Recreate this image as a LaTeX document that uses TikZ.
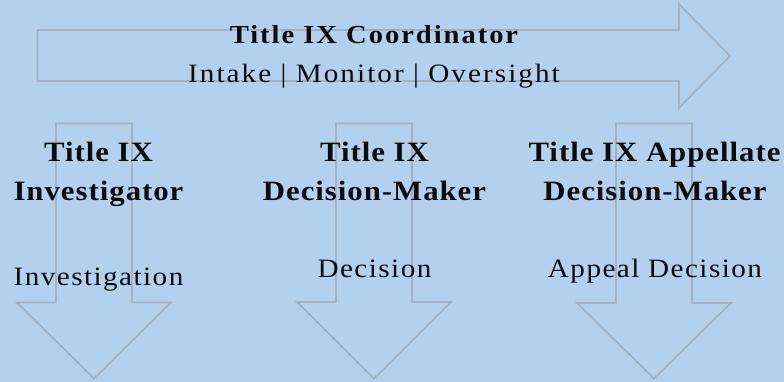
\documentclass[tikz,border=0pt]{standalone}
\usepackage{fontspec}
\setmainfont{Liberation Serif}
\newfontfamily\hdfont[LetterSpace=3.5,FakeStretch=1.1]{Liberation Serif}
\newfontfamily\bdfont[LetterSpace=5.5,FakeStretch=1.1]{Liberation Serif}
\newfontfamily\subfont[LetterSpace=7.8,FakeStretch=1.1]{Liberation Serif}
\newfontfamily\ttlfont[LetterSpace=7.5,FakeStretch=1.1]{Liberation Serif}
\definecolor{bgblue}{RGB}{179,209,238}
\definecolor{outl}{RGB}{162,178,196}
\definecolor{ink}{RGB}{12,12,14}
\tikzset{
  arrowshape/.style={draw=outl, line width=1.8pt, line join=miter},
  ttl/.style={anchor=base, inner sep=0pt, text=ink, font=\ttlfont\bfseries\fontsize{26}{30}\selectfont},
  sub/.style={anchor=base, inner sep=0pt, text=ink, font=\subfont\fontsize{26.5}{30}\selectfont},
  hd/.style={anchor=base, inner sep=0pt, text=ink, font=\hdfont\bfseries\fontsize{28}{32}\selectfont},
  bd/.style={anchor=base, inner sep=0pt, text=ink, font=\bdfont\fontsize{26.5}{30}\selectfont},
}
\begin{document}
\begin{tikzpicture}[x=1pt,y=-1pt]
\fill[bgblue] (0,0) rectangle (784,382);
\useasboundingbox (0,0) rectangle (784,382);
% arrows
\draw[arrowshape] (37.5,30) -- (679,30) -- (679,4) -- (730,56) -- (679,108) -- (679,81) -- (37.5,81) -- cycle;
\draw[arrowshape] (56,123.5) -- (132,123.5) -- (132,302.5) -- (171,302.5) -- (94,378.5) -- (17,302.5) -- (56,302.5) -- cycle;
\draw[arrowshape] (336,123.5) -- (412,123.5) -- (412,302) -- (451,302) -- (374,378.5) -- (297,302) -- (336,302) -- cycle;
\draw[arrowshape] (616,123.5) -- (692,123.5) -- (692,303) -- (731,303) -- (654,378.5) -- (577,303) -- (616,303) -- cycle;
% texts
\node[ttl] (coord) at (374,43.5) {Title IX Coordinator};
\node[sub] (coordsub) at (374,83) {Intake | Monitor | Oversight};
\node[hd] (inv1) at (98.5,162) {Title IX};
\node[hd] (inv2) at (98.5,200.5) {Investigator};
\node[bd] (inv3) at (98.5,285) {Investigation};
\node[hd] (dm1) at (374.5,162) {Title IX};
\node[hd] (dm2) at (374.5,200.5) {Decision-Maker};
\node[bd] (dm3) at (374.5,277.7) {Decision};
\node[hd] (ap1) at (654.5,162) {Title IX Appellate};
\node[hd] (ap2) at (655,200.5) {Decision-Maker};
\node[bd] (ap3) at (655,277.7) {Appeal Decision};
\end{tikzpicture}
\end{document}
